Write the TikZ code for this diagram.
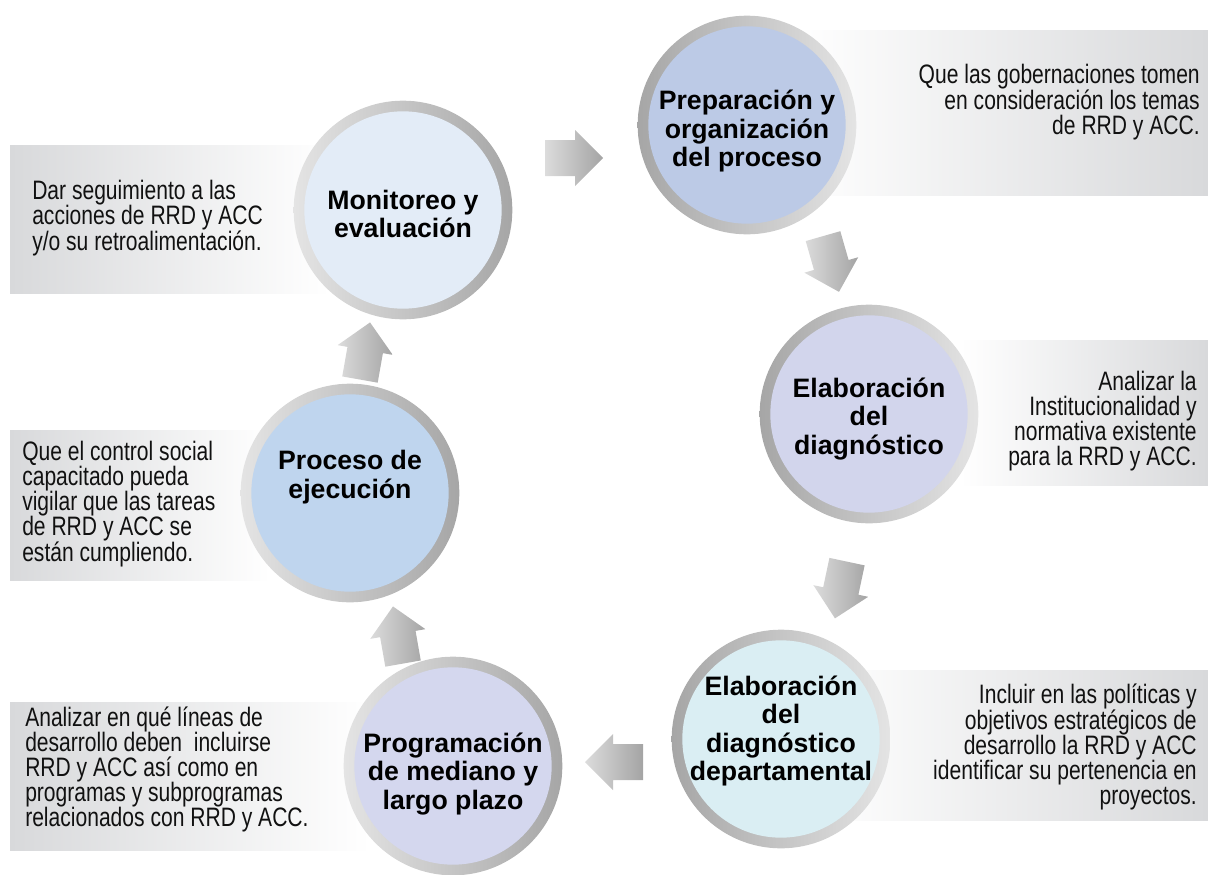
\documentclass[tikz,border=0pt]{standalone}
\usepackage{fontspec}
\setmainfont{Liberation Sans}
\newfontfamily\bodyfont[FakeStretch=0.79]{Liberation Sans}
\newcommand\ttlfont{\fontsize{20}{21.3}\selectfont\bfseries}
\newcommand\bodytxt{\bodyfont\fontsize{20}{18.75}\selectfont}
\definecolor{prepfill}{HTML}{BCCAE6}
\definecolor{monfill}{HTML}{E3ECF7}
\definecolor{elabfill}{HTML}{D2D5EC}
\definecolor{depfill}{HTML}{DAEEF3}
\definecolor{progfill}{HTML}{D4D7EE}
\definecolor{procfill}{HTML}{BFD5EE}
\definecolor{ringdk}{HTML}{A6A6A6}
\definecolor{ringlt}{HTML}{E4E4E4}
\definecolor{boxgray}{HTML}{D8D9DB}
\definecolor{arrlt}{HTML}{DCDCDC}
\definecolor{arrdk}{HTML}{A4A4A4}
\definecolor{txt}{HTML}{111111}
\newcommand\blockarr[3]{%
  \shade[left color=arrlt,right color=arrdk,shift={(#1,#2)},rotate=#3]
    (-29,-18) -- (1,-18) -- (1,-28) -- (29,0) -- (1,28) -- (1,18) -- (-29,18) -- cycle;}
\begin{document}
\begin{tikzpicture}[x=0.75pt,y=-0.75pt,
  ringR/.style={circle,inner sep=0pt,minimum size=164pt,left color=ringdk,right color=ringlt},
  ringL/.style={circle,inner sep=0pt,minimum size=164pt,left color=ringlt,right color=ringdk},
  disc/.style={circle,inner sep=0pt,minimum size=148pt},
  ttl/.style={align=center,font=\ttlfont,text=black,inner sep=0pt},
  body/.style={font=\bodytxt,text=txt,inner sep=0pt}]
\useasboundingbox (0,0) rectangle (1208,875);
% text boxes
\shade[left color=white,right color=boxgray] (795,30) rectangle (1208,195);
\shade[left color=boxgray,right color=white] (10,145) rectangle (330,293);
\shade[left color=white,right color=boxgray] (960,340) rectangle (1208,485);
\shade[left color=boxgray,right color=white] (10,430) rectangle (270,580);
\shade[left color=white,right color=boxgray] (815,670) rectangle (1208,820);
\shade[left color=boxgray,right color=white] (10,702) rectangle (370,850);
% circles
\node[ringR] (prepR) at (747,125) {};
\node[disc,fill=prepfill] (prepD) at (747,125) {};
\node[ttl] (prep) at (747,131) {Preparación y\\organización\\del proceso};
\node[ringL] (monR) at (403,210) {};
\node[disc,fill=monfill] (monD) at (403,210) {};
\node[ttl] (mon) at (403,214) {Monitoreo y\\evaluación};
\node[ringR] (elabR) at (869,414) {};
\node[disc,fill=elabfill] (elabD) at (869,414) {};
\node[ttl] (elab) at (869,419) {Elaboración\\del\\diagnóstico};
\node[ringR] (depR) at (781,739) {};
\node[disc,fill=depfill] (depD) at (781,739) {};
\node[ttl] (dep) at (781,731) {Elaboración\\del\\diagnóstico\\departamental};
\node[ringL] (progR) at (453,766) {};
\node[disc,fill=progfill] (progD) at (453,766) {};
\node[ttl] (prog) at (453,774) {Programación\\de mediano y\\largo plazo};
\node[ringL] (procR) at (350,493) {};
\node[disc,fill=procfill] (procD) at (350,493) {};
\node[ttl] (proc) at (350,477) {Proceso de\\ejecución};
% descriptions
\node[body,align=right,anchor=east] (prepT) at (1200,102) {Que las gobernaciones tomen\\en consideración los temas\\de RRD y ACC.};
\node[body,align=left,anchor=west] (monT) at (32,218) {Dar seguimiento a las\\acciones de RRD y ACC\\y/o su retroalimentación.};
\node[body,align=right,anchor=east] (elabT) at (1197,421) {Analizar la\\Institucionalidad y\\normativa existente\\para la RRD y ACC.};
\node[body,align=left,anchor=west] (procT) at (22,504) {Que el control social\\capacitado pueda\\vigilar que las tareas\\de RRD y ACC se\\están cumpliendo.};
\node[body,align=right,anchor=east] (depT) at (1197,747) {Incluir en las políticas y\\objetivos estratégicos de\\desarrollo la RRD y ACC\\identificar su pertenencia en\\proyectos.};
\node[body,align=left,anchor=west] (progT) at (25,769) {Analizar en qué líneas de\\desarrollo deben\ \ incluirse\\RRD y ACC así como en\\programas y subprogramas\\relacionados con RRD y ACC.};
% block arrows
\blockarr{574}{158}{0}
\blockarr{831}{264}{-74}
\blockarr{841}{590}{-102}
\blockarr{614}{762}{180}
\blockarr{398}{635}{100}
\blockarr{365}{351}{80}
\end{tikzpicture}
\end{document}
